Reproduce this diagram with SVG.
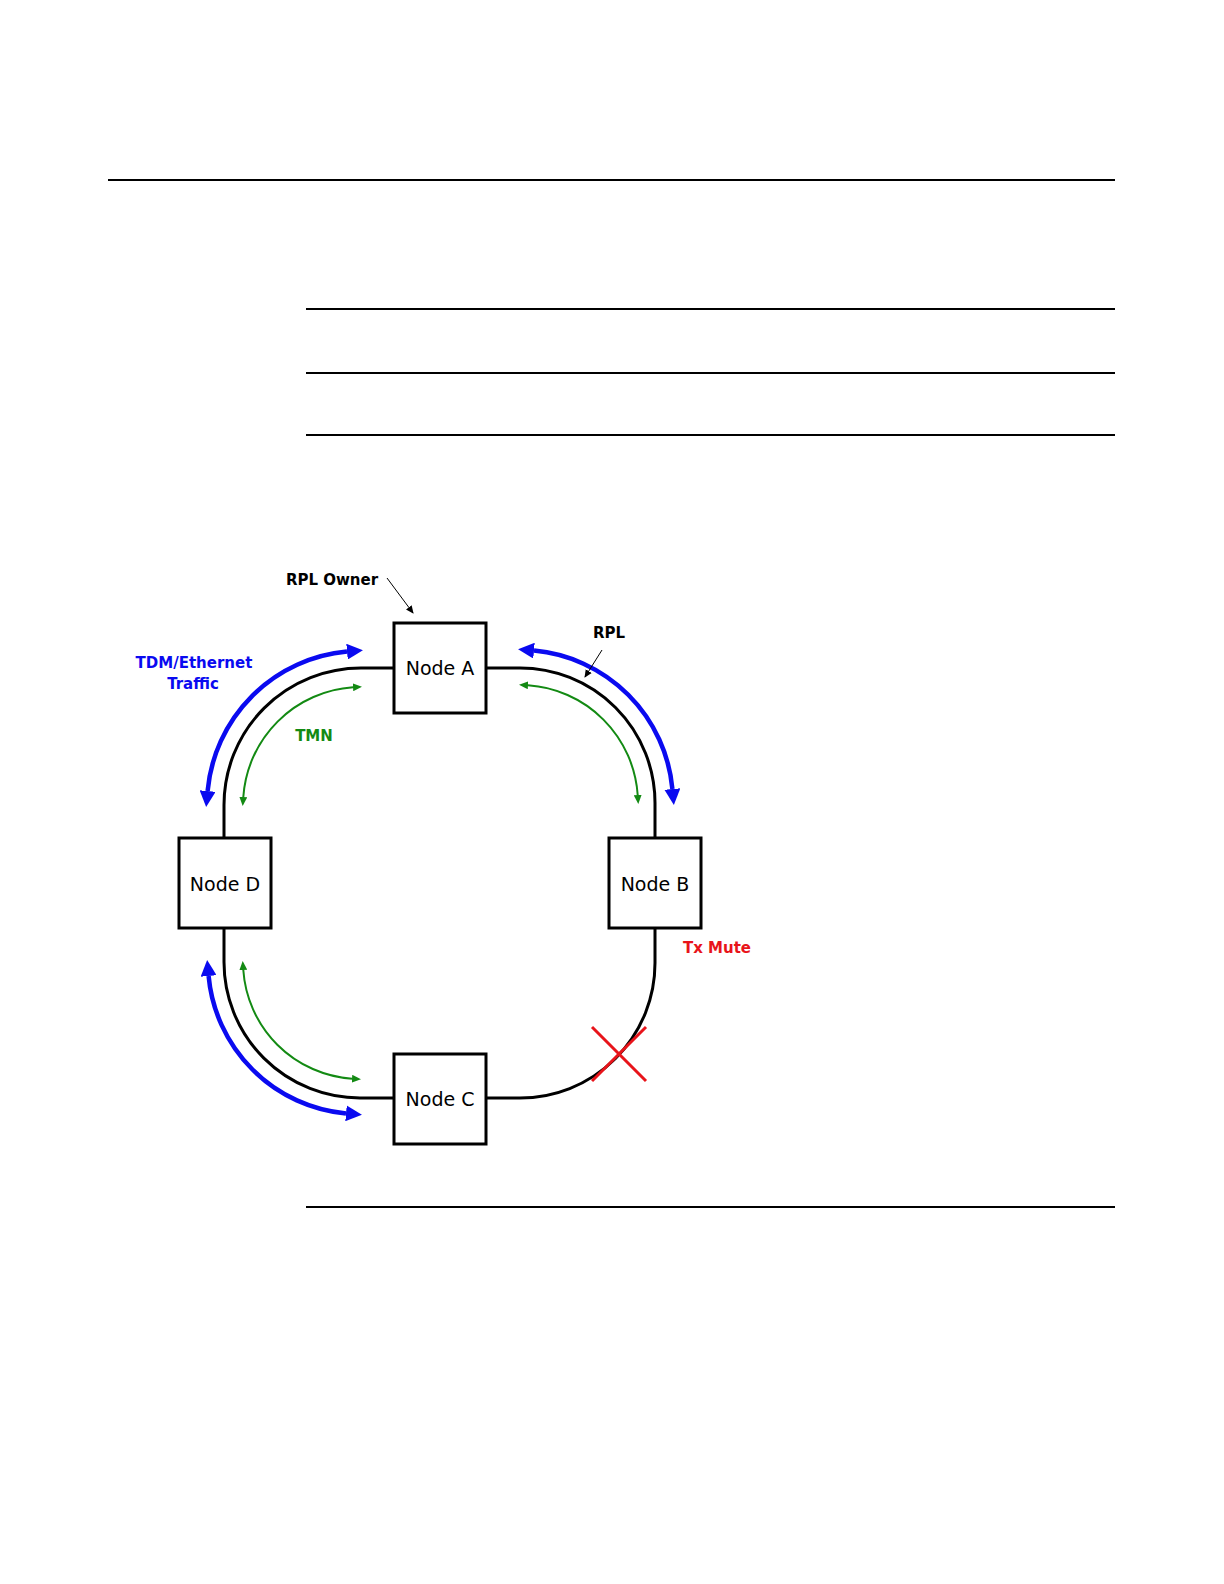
<svg xmlns="http://www.w3.org/2000/svg" width="1224" height="1584" viewBox="0 0 1224 1584">
<style>
.rule{stroke:#000;stroke-width:2}
.box{fill:#fff;stroke:#000;stroke-width:3}
.ring{fill:none;stroke:#000;stroke-width:3}
.blue{fill:none;stroke:#0a0af0;stroke-width:4.5}
.green{fill:none;stroke:#138a13;stroke-width:2}
.lbl{font-family:"DejaVu Sans","Liberation Sans",sans-serif;font-size:19px;fill:#000;text-anchor:middle;dominant-baseline:central}
.note{font-family:"DejaVu Sans","Liberation Sans",sans-serif;font-size:15px;font-weight:bold;text-anchor:middle;dominant-baseline:central}
</style>
<defs>
<marker id="ab" markerUnits="userSpaceOnUse" markerWidth="16" markerHeight="16" refX="0" refY="7" orient="auto-start-reverse" viewBox="0 0 14 14"><path d="M0,0 L14,7 L0,14 z" fill="#0a0af0"/></marker>
<marker id="ag" markerUnits="userSpaceOnUse" markerWidth="9" markerHeight="8" refX="0" refY="3.5" orient="auto-start-reverse" viewBox="0 0 8 7"><path d="M0,0 L8,3.5 L0,7 z" fill="#138a13"/></marker>
<marker id="ak" markerUnits="userSpaceOnUse" markerWidth="8" markerHeight="8" refX="7" refY="3.5" orient="auto" viewBox="0 0 8 7"><path d="M0,0 L8,3.5 L0,7 z" fill="#000"/></marker>
</defs>
<g id="rules">
<line class="rule" x1="108" y1="180" x2="1115" y2="180"/>
<line class="rule" x1="306" y1="309" x2="1115" y2="309"/>
<line class="rule" x1="306" y1="373" x2="1115" y2="373"/>
<line class="rule" x1="306" y1="435" x2="1115" y2="435"/>
<line class="rule" x1="306" y1="1207" x2="1115" y2="1207"/>
</g>
<g id="connectors">
<path class="ring" d="M224,838 V805 A137,137 0 0 1 361,668 H394"/>
<path class="ring" d="M486,668 H520 A135,135 0 0 1 655,803 V838"/>
<path class="ring" d="M224,929 V962 A136,136 0 0 0 360,1098 H394"/>
<path class="ring" d="M655,929 V963 A135,135 0 0 1 520,1098 H486"/>
<path class="blue" d="M207.6,791 A154,154 0 0 1 347,651.6" marker-start="url(#ab)" marker-end="url(#ab)"/>
<path class="green" d="M243.3,797 A118,118 0 0 1 353,687.3" marker-start="url(#ag)" marker-end="url(#ag)"/>
<path class="blue" d="M534,650.6 A153,153 0 0 1 672.4,789" marker-start="url(#ab)" marker-end="url(#ab)"/>
<path class="green" d="M528,685.3 A118,118 0 0 1 637.7,795" marker-start="url(#ag)" marker-end="url(#ag)"/>
<path class="blue" d="M208.6,976 A152,152 0 0 0 346,1113.4" marker-start="url(#ab)" marker-end="url(#ab)"/>
<path class="green" d="M243.3,970 A117,117 0 0 0 352,1078.7" marker-start="url(#ag)" marker-end="url(#ag)"/>
<line x1="387" y1="578" x2="413" y2="613" stroke="#000" stroke-width="1" marker-end="url(#ak)"/>
<line x1="602" y1="650" x2="585" y2="677" stroke="#000" stroke-width="1" marker-end="url(#ak)"/>
</g>
<g id="fault">
<line x1="592" y1="1027" x2="646" y2="1081" stroke="#e8141a" stroke-width="3"/>
<line x1="646" y1="1027" x2="592" y2="1081" stroke="#e8141a" stroke-width="3"/>
</g>
<g id="nodeA"><rect class="box" x="394" y="623" width="92" height="90"/><text class="lbl" x="440" y="668">Node A</text></g>
<g id="nodeB"><rect class="box" x="609" y="838" width="92" height="90"/><text class="lbl" x="655" y="884">Node B</text></g>
<g id="nodeC"><rect class="box" x="394" y="1054" width="92" height="90"/><text class="lbl" x="440" y="1099">Node C</text></g>
<g id="nodeD"><rect class="box" x="179" y="838" width="92" height="90"/><text class="lbl" x="225" y="884">Node D</text></g>
<g id="labels">
<text class="note" x="332" y="580" fill="#000">RPL Owner</text>
<text class="note" x="609" y="633" fill="#000">RPL</text>
<text class="note" x="194" y="663" fill="#0a0af0">TDM/Ethernet</text>
<text class="note" x="193" y="684" fill="#0a0af0">Traffic</text>
<text class="note" x="314" y="736" fill="#138a13">TMN</text>
<text class="note" x="717" y="948" fill="#e8141a">Tx Mute</text>
</g>
</svg>
